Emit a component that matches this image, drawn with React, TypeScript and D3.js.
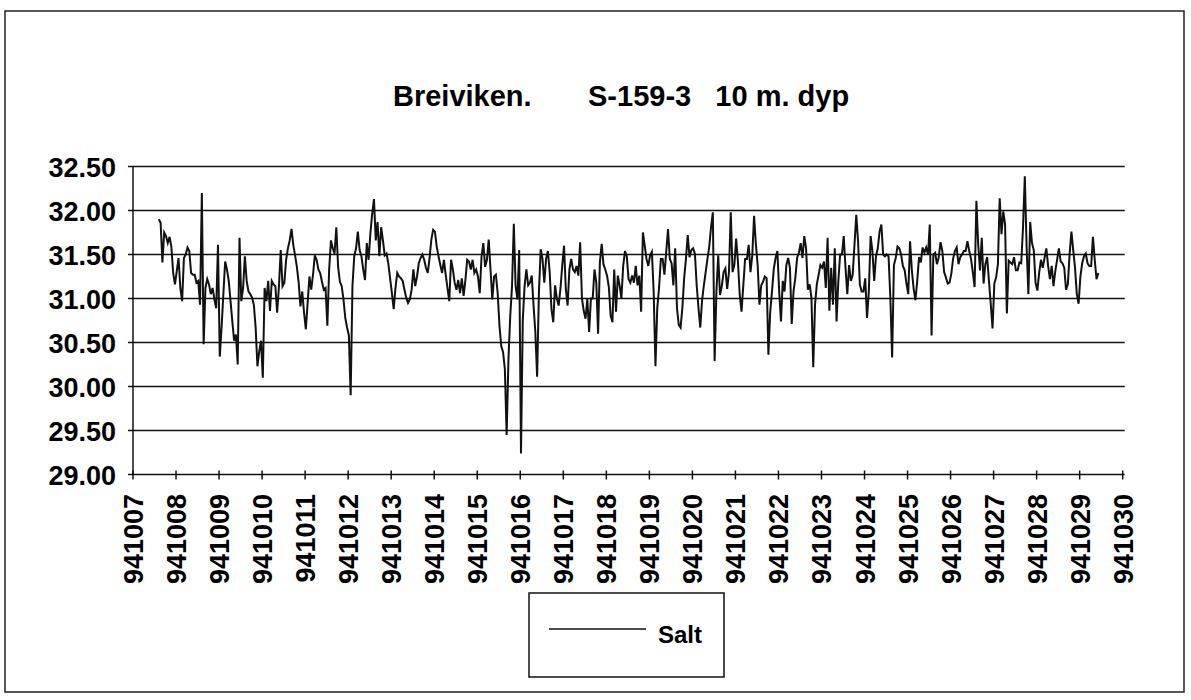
import React from 'react';
import * as d3 from 'd3';

const chartTitle = 'Breiviken.       S-159-3   10 m. dyp';
const seriesName = 'Salt';
const yTicks = [29.0, 29.5, 30.0, 30.5, 31.0, 31.5, 32.0, 32.5];
const xTicks = d3.range(941007, 941031);
const startDay = 941007.6;
const stepDays = 1 / 24;

const saltPart1 = [
  31.90, 31.86, 31.41, 31.75, 31.71, 31.63, 31.70, 31.59, 31.29, 31.16,
  31.31, 31.46, 31.12, 30.97, 31.46, 31.50, 31.58, 31.54, 31.29, 31.27,
  31.27, 31.18, 31.20, 30.93, 32.20, 30.48, 31.12, 31.22, 31.16, 31.05,
  31.12, 30.99, 30.89, 31.61, 30.34, 30.67, 31.05, 31.42, 31.33, 31.20,
  30.97, 30.74, 30.52, 30.59, 30.25, 31.69, 30.97, 31.12, 31.48, 31.20,
  31.08, 31.05, 31.01, 30.93, 30.67, 30.23, 30.40, 30.52, 30.10, 31.12,
  30.97, 31.20, 30.86, 31.20, 31.16,
];
const saltPart2 = [
  31.14, 30.84, 31.14, 31.55, 31.14, 31.18, 31.44, 31.57, 31.66, 31.79,
  31.61, 31.49, 31.36, 31.18, 30.91, 31.08, 30.84, 30.65, 30.95, 31.25,
  31.10, 31.27, 31.49, 31.44, 31.33, 31.29, 31.19, 31.10, 31.12, 30.69,
  31.33, 31.66, 31.57, 31.51, 31.81, 31.36, 31.19, 31.14, 30.99, 30.78,
  30.67, 30.58, 29.90, 31.14, 31.48, 31.57, 31.76, 31.55, 31.48, 31.33,
  31.21, 31.63, 31.44, 31.74, 31.96, 32.13, 31.66, 31.87, 31.48, 31.81,
  31.66, 31.49, 31.51, 31.40, 31.23, 31.06, 30.88, 31.12, 31.29, 31.25,
];
const saltPart3 = [
  31.23, 31.20, 31.10, 31.01, 30.95, 30.99, 31.10, 31.33, 31.14, 31.25,
  31.40, 31.46, 31.50, 31.44, 31.35, 31.29, 31.46, 31.67, 31.78, 31.76,
  31.59, 31.48, 31.38, 31.29, 31.44, 31.27, 31.12, 30.97, 31.44, 31.33,
  31.18, 31.10, 31.21, 31.06, 31.23, 31.03, 31.21, 31.44, 31.42, 31.33,
  31.44, 31.29, 31.33, 31.25, 31.06, 31.48, 31.63, 31.36, 31.44, 31.67,
  31.33, 30.99, 31.25, 31.27, 31.06, 30.69, 30.46, 30.39, 30.20, 29.45,
  30.31, 30.80, 31.14, 31.85, 31.14, 30.99, 31.55, 29.24, 30.76, 31.14,
];
const saltPart4 = [
  31.33, 31.15, 31.18, 31.26, 30.92, 30.62, 30.11, 31.07, 31.56, 31.45,
  31.18, 31.45, 31.54, 31.30, 30.88, 30.73, 31.15, 31.00, 30.92, 31.11,
  31.37, 31.60, 31.11, 30.92, 31.33, 31.45, 31.33, 31.30, 31.37, 31.26,
  31.64, 31.00, 30.86, 30.77, 31.00, 30.62, 31.00, 31.00, 31.33, 31.18,
  30.60, 31.41, 31.62, 31.39, 31.33, 31.26, 31.13, 30.81, 30.73, 31.33,
  30.85, 31.26, 31.15, 31.00, 31.37, 31.54, 31.48, 31.22, 31.18, 31.26,
  31.18, 31.37, 31.15, 31.26, 30.85, 31.75, 31.60, 31.45, 31.37,
];
const saltPart5 = [
  31.49, 31.53, 31.08, 30.23, 30.89, 31.12, 31.45, 31.45, 31.27, 31.53,
  31.79, 31.45, 31.40, 31.15, 31.57, 30.89, 30.70, 30.67, 30.89, 31.23,
  31.45, 31.72, 31.47, 31.55, 31.57, 31.51, 31.15, 30.89, 30.67, 30.98,
  31.15, 31.30, 31.45, 31.59, 31.81, 31.98, 30.29, 31.08, 31.49, 31.04,
  31.14, 31.30, 31.34, 31.11, 31.30, 31.98, 31.30, 31.38, 31.68, 31.42,
  31.04, 30.85, 31.15, 31.45, 31.45, 31.61, 31.30, 31.49, 31.94, 31.62,
  31.38, 30.93, 31.15, 31.19, 31.25, 31.23, 30.36, 30.85, 31.08, 31.34,
];
const saltPart6 = [
  31.46, 31.54, 31.08, 30.74, 31.20, 31.08, 31.38, 31.46, 31.35, 30.71,
  31.08, 31.23, 31.46, 31.52, 31.63, 31.46, 31.71, 31.57, 31.10, 31.16,
  31.01, 30.22, 30.93, 31.16, 31.27, 31.38, 31.35, 31.42, 31.12, 31.69,
  30.86, 31.35, 30.93, 31.57, 30.74, 31.20, 31.50, 31.50, 31.71, 31.35,
  31.05, 31.38, 31.20, 31.27, 31.61, 31.95, 31.65, 31.16, 31.08, 31.08,
  31.23, 30.78, 31.08, 31.71, 31.54, 31.20, 31.48, 31.57, 31.76, 31.84,
  31.50, 31.48, 31.50, 31.48, 31.01, 30.33, 31.38, 31.46, 31.59, 31.57,
];
const saltPart7 = [
  31.50, 31.37, 31.32, 31.17, 31.05, 31.65, 31.32, 31.11, 30.98, 31.20,
  31.47, 31.41, 31.58, 31.52, 31.58, 31.50, 31.84, 30.58, 31.50, 31.52,
  31.39, 31.47, 31.64, 31.54, 31.30, 31.24, 31.17, 31.18, 31.28, 31.45,
  31.54, 31.58, 31.39, 31.47, 31.50, 31.54, 31.54, 31.65, 31.54, 31.45,
  31.30, 31.13, 32.11, 31.62, 31.32, 31.69, 31.17, 31.39, 31.47, 31.20,
  30.94, 30.66, 31.17, 31.24, 31.39, 32.14, 31.73, 31.99, 31.84, 30.83,
  31.43, 31.41, 31.39, 31.47, 31.32, 31.32, 31.41,
];
const saltPart8 = [
  31.40, 31.81, 32.39, 31.59, 31.05, 31.87, 31.63, 31.55, 31.18, 31.09,
  31.29, 31.44, 31.35, 31.46, 31.57, 31.37, 31.22, 31.37, 31.14, 31.31,
  31.44, 31.57, 31.42, 31.40, 31.35, 31.10, 31.16, 31.51, 31.76, 31.55,
  31.35, 31.05, 30.94, 31.25, 31.40, 31.48, 31.51, 31.40, 31.37, 31.37,
  31.70, 31.44, 31.22, 31.29,
];

const salt = [
  ...saltPart1, ...saltPart2, ...saltPart3, ...saltPart4,
  ...saltPart5, ...saltPart6, ...saltPart7, ...saltPart8,
];

const FONT = '"Liberation Sans", Arial, Helvetica, sans-serif';

export default function App() {
  const W = 1191;
  const H = 700;
  const left = 133;
  const right = 1122.7;
  const top = 166.5;
  const bottom = 474.5;

  const x = d3.scaleLinear().domain([941007, 941030]).range([left, right]);
  const y = d3.scaleLinear().domain([29, 32.5]).range([bottom, top]);

  const points = salt.map((v, i) => ({ d: startDay + i * stepDays, v }));
  const line = d3
    .line<{ d: number; v: number }>()
    .x((p) => x(p.d))
    .y((p) => y(p.v));

  return (
    <svg
      width={W}
      height={H}
      viewBox={`0 0 ${W} ${H}`}
      style={{ position: 'absolute', left: 0, top: 0, background: '#fff' }}
    >
      <rect x={0} y={0} width={W} height={H} fill="#fff" />
      <rect x={5} y={11} width={1179} height={681} fill="none" stroke="#222" strokeWidth={1.5} />

      <text
        x={393}
        y={106}
        fontFamily={FONT}
        fontWeight="bold"
        fontSize={29}
        style={{ whiteSpace: 'pre' }}
      >
        {chartTitle}
      </text>

      {/* gridlines */}
      {yTicks.map((t) => (
        <line key={'g' + t} x1={left - 5} x2={right + 2} y1={y(t)} y2={y(t)} stroke="#111" strokeWidth={1.5} />
      ))}
      {/* y axis */}
      <line x1={left} x2={left} y1={top} y2={bottom} stroke="#111" strokeWidth={1.5} />
      {yTicks.map((t) => (
        <text
          key={'yl' + t}
          x={116}
          y={y(t) + 10}
          textAnchor="end"
          fontFamily={FONT}
          fontWeight="bold"
          fontSize={27}
        >
          {t.toFixed(2)}
        </text>
      ))}

      {/* x axis ticks */}
      {xTicks.map((t) => (
        <line key={'xt' + t} x1={x(t)} x2={x(t)} y1={bottom - 4} y2={bottom + 5} stroke="#111" strokeWidth={1.5} />
      ))}
      {xTicks.map((t) => (
        <text
          key={'xl' + t}
          transform={`translate(${x(t) + 10},${494}) rotate(-90)`}
          textAnchor="end"
          fontFamily={FONT}
          fontWeight="bold"
          fontSize={27}
        >
          {String(t)}
        </text>
      ))}

      {/* series */}
      <path d={line(points) ?? ''} fill="none" stroke="#111" strokeWidth={2} strokeLinejoin="miter" />

      {/* legend */}
      <rect x={529} y={593} width={195} height={84} fill="#fff" stroke="#111" strokeWidth={1.5} />
      <line x1={549} x2={646} y1={629} y2={629} stroke="#111" strokeWidth={1.5} />
      <text x={658} y={643} fontFamily={FONT} fontWeight="bold" fontSize={24}>
        {seriesName}
      </text>
    </svg>
  );
}
